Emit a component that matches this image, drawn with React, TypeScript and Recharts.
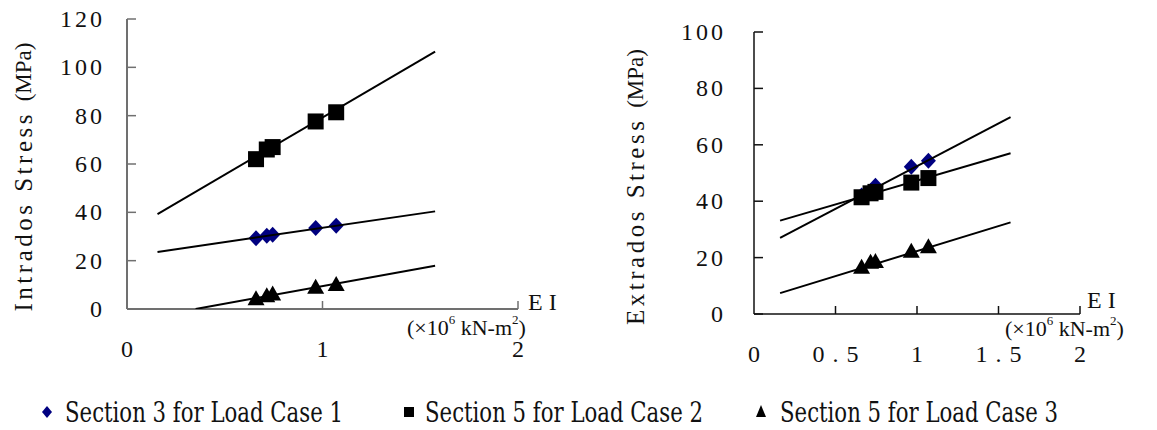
import React from 'react';
import { ScatterChart, Scatter, XAxis, YAxis } from 'recharts';

// ---------- data ----------
const EI = [0.66, 0.715, 0.745, 0.965, 1.07];

const intradosS3LC1 = [29.3, 30.3, 30.7, 33.5, 34.4];
const intradosS5LC2 = [62, 66, 67, 77.6, 81.4];
const intradosS5LC3 = [3.9, 5.2, 5.9, 8.7, 9.8];

const intradosFitS3LC1 = { x: [0.156, 1.576], y: [23.6, 40.4] };
const intradosFitS5LC2 = { x: [0.156, 1.576], y: [39.3, 106.5] };
const intradosFitS5LC3 = { x: [0.351, 1.576], y: [0, 17.9] };

const extradosS3LC1 = [42, 43.5, 45.5, 52.2, 54.3];
const extradosS5LC2 = [41.4, 42.8, 43.3, 46.6, 48.2];
const extradosS5LC3 = [16.3, 18.1, 18.3, 22.0, 23.6];

const extradosFitS3LC1 = { x: [0.16, 1.574], y: [27.0, 69.8] };
const extradosFitS5LC2 = { x: [0.16, 1.574], y: [33.1, 57.0] };
const extradosFitS5LC3 = { x: [0.16, 1.574], y: [7.4, 32.5] };

const intradosXTicks = [0, 1, 2];
const intradosYTicks = [0, 20, 40, 60, 80, 100, 120];
const extradosXTicks = [0, 0.5, 1, 1.5, 2];
const extradosYTicks = [0, 20, 40, 60, 80, 100];

const legendLabels = [
  'Section 3 for Load Case 1',
  'Section 5 for Load Case 2',
  'Section 5 for Load Case 3',
];

const toPoints = (xs: number[], ys: number[]) => xs.map((x, i) => ({ x, y: ys[i] }));

// ---------- styles ----------
const NAVY = '#000080';
const TICK_FONT = 'Liberation Serif';
const LEGEND_FONT = 'DejaVu Serif';
const TITLE_FONT = 'Liberation Serif';

// ---------- shapes ----------
const Diamond = (p: any) => {
  const { cx, cy } = p;
  const w = 7.5, h = 8;
  return <path d={`M${cx},${cy - h}L${cx + w},${cy}L${cx},${cy + h}L${cx - w},${cy}Z`} fill={NAVY} />;
};
const Square = (p: any) => {
  const { cx, cy } = p;
  const s = 8;
  return <rect x={cx - s} y={cy - s} width={2 * s} height={2 * s} fill="#000" />;
};
const Triangle = (p: any) => {
  const { cx, cy } = p;
  const w = 8.5, h = 15;
  return <path d={`M${cx},${cy - h * 0.62}L${cx + w},${cy + h * 0.38}L${cx - w},${cy + h * 0.38}Z`} fill="#000" />;
};
const NoShape = () => <g />;

// ---------- ticks ----------
const XTick = (props: any) => {
  const { x, y, payload, labelDy, tickLen, axisColor } = props;
  const v = payload.value;
  const label = String(v);
  const hasDot = label.includes('.');
  return (
    <g>
      {v !== 0 && <line x1={x} y1={y} x2={x} y2={y - tickLen} stroke={axisColor} strokeWidth={1.5} />}
      <text
        x={x + (hasDot ? 4 : 1.5)}
        y={y + labelDy}
        textAnchor="middle"
        dominantBaseline="central"
        fontFamily={TICK_FONT}
        fontSize={24}
        letterSpacing={hasDot ? 8 : 3}
        fill="#111"
      >
        {label}
      </text>
    </g>
  );
};

const YTick = (props: any) => {
  const { x, y, payload, labelDx, tickLen, axisColor } = props;
  return (
    <g>
      <line x1={x} y1={y} x2={x + tickLen} y2={y} stroke={axisColor} strokeWidth={1.5} />
      <text
        x={x - labelDx}
        y={y}
        textAnchor="end"
        dominantBaseline="central"
        fontFamily={TICK_FONT}
        fontSize={24}
        letterSpacing={3}
        fill="#111"
      >
        {String(payload.value)}
      </text>
    </g>
  );
};

// ---------- titles ----------
const YTitle = (props: any) => {
  const { cx, cy, main } = props;
  return (
    <text
      x={cx}
      y={cy}
      transform={`rotate(-90 ${cx} ${cy})`}
      textAnchor="middle"
      dominantBaseline="central"
      fontFamily={TITLE_FONT}
      fill="#111"
    >
      <tspan fontSize={25} letterSpacing={3.5}>{main}</tspan>
      <tspan fontSize={23} letterSpacing={0}>(MPa)</tspan>
    </text>
  );
};

const XTitle = (props: any) => {
  const { eiX, eiY, unitX, unitY } = props;
  return (
    <g fill="#111">
      <text x={eiX} y={eiY} dominantBaseline="central" fontFamily={TITLE_FONT} fontSize={24} fill="#111">E I</text>
      <text x={unitX} y={unitY} dominantBaseline="central" fontFamily={TITLE_FONT} fontSize={22} fill="#111">
        <tspan>(×10</tspan>
        <tspan fontSize={13} dy={-8}>6</tspan>
        <tspan dy={8}> kN-m</tspan>
        <tspan fontSize={13} dy={-8}>2</tspan>
        <tspan dy={8}>)</tspan>
      </text>
    </g>
  );
};

// ---------- chart ----------
type PanelProps = {
  width: number;
  height: number;
  margin: { top: number; right: number; bottom: number; left: number };
  yDomain: [number, number];
  xTicks: number[];
  yTicks: number[];
  s3: number[];
  s5a: number[];
  s5b: number[];
  fits: { x: number[]; y: number[] }[];
  axisColor: string;
  axisWidth: number;
  yTitle: { cx: number; cy: number; main: string };
  xTitle: { eiX: number; eiY: number; unitX: number; unitY: number };
  xLabelDy: number;
  yLabelDx: number;
};

const Panel = (p: PanelProps) => (
  <ScatterChart width={p.width} height={p.height} margin={p.margin}>
    <XAxis
      type="number"
      dataKey="x"
      domain={[0, 2]}
      ticks={p.xTicks}
      interval={0}
      allowDataOverflow
      height={50}
      tickSize={0}
      tickMargin={0}
      axisLine={{ stroke: p.axisColor, strokeWidth: p.axisWidth }}
      tickLine={false}
      tick={<XTick labelDy={p.xLabelDy} tickLen={8} axisColor={p.axisColor} />}
      label={<XTitle {...p.xTitle} />}
    />
    <YAxis
      type="number"
      dataKey="y"
      domain={p.yDomain}
      ticks={p.yTicks}
      interval={0}
      allowDataOverflow
      width={100}
      tickSize={0}
      tickMargin={0}
      axisLine={{ stroke: p.axisColor, strokeWidth: p.axisWidth }}
      tickLine={false}
      tick={<YTick labelDx={p.yLabelDx} tickLen={9} axisColor={p.axisColor} />}
      label={<YTitle {...p.yTitle} />}
    />
    <Scatter data={toPoints(EI, p.s3)} shape={Diamond} isAnimationActive={false} />
    <Scatter data={toPoints(EI, p.s5a)} shape={Square} isAnimationActive={false} />
    <Scatter data={toPoints(EI, p.s5b)} shape={Triangle} isAnimationActive={false} />
    {p.fits.map((f, i) => (
      <Scatter
        key={i}
        data={toPoints(f.x, f.y)}
        shape={NoShape}
        line={{ stroke: '#000', strokeWidth: 2 }}
        lineType="joint"
        isAnimationActive={false}
      />
    ))}
  </ScatterChart>
);

// ---------- legend ----------
const Legend = () => {
  const items = [
    { mx: 47, tx: 65, kind: 'diamond' },
    { mx: 409, tx: 425, kind: 'square' },
    { mx: 761, tx: 780, kind: 'triangle' },
  ];
  const cy = 412;
  return (
    <svg width={1157} height={60} style={{ position: 'absolute', left: 0, top: 370 }}>
      {items.map((it, i) => {
        const y = cy - 370;
        let marker;
        if (it.kind === 'diamond') marker = <path d={`M${it.mx},${y - 6}L${it.mx + 5},${y}L${it.mx},${y + 6}L${it.mx - 5},${y}Z`} fill={NAVY} />;
        else if (it.kind === 'square') marker = <rect x={it.mx - 5} y={y - 5} width={10} height={10} fill="#000" />;
        else marker = <path d={`M${it.mx},${y - 7}L${it.mx + 5},${y + 5}L${it.mx - 5},${y + 5}Z`} fill="#000" />;
        return (
          <g key={i}>
            {marker}
            <text
              x={it.tx}
              y={y + 10}
              fontFamily={LEGEND_FONT}
              fontSize={27}
              textLength={278}
              lengthAdjust="spacingAndGlyphs"
              fill="#111"
            >
              {legendLabels[i]}
            </text>
          </g>
        );
      })}
    </svg>
  );
};

export default function App() {
  return (
    <div style={{ position: 'absolute', left: 0, top: 0, width: 1157, height: 430, background: '#fff', overflow: 'hidden' }}>
      <div style={{ position: 'absolute', left: 0, top: 0 }}>
        <Panel
          width={580}
          height={370}
          margin={{ top: 19, right: 62, bottom: 11, left: 27 }}
          yDomain={[0, 120]}
          xTicks={intradosXTicks}
          yTicks={intradosYTicks}
          s3={intradosS3LC1}
          s5a={intradosS5LC2}
          s5b={intradosS5LC3}
          fits={[intradosFitS3LC1, intradosFitS5LC2, intradosFitS5LC3]}
          axisColor="#707070"
          axisWidth={2}
          yTitle={{ cx: 23, cy: 177, main: 'Intrados Stress ' }}
          xTitle={{ eiX: 528, eiY: 302, unitX: 407, unitY: 327 }}
          xLabelDy={40}
          yLabelDx={22}
        />
      </div>
      <div style={{ position: 'absolute', left: 580, top: 0 }}>
        <Panel
          width={577}
          height={370}
          margin={{ top: 32, right: 77, bottom: 6, left: 74 }}
          yDomain={[0, 100]}
          xTicks={extradosXTicks}
          yTicks={extradosYTicks}
          s3={extradosS3LC1}
          s5a={extradosS5LC2}
          s5b={extradosS5LC3}
          fits={[extradosFitS3LC1, extradosFitS5LC2, extradosFitS5LC3]}
          axisColor="#111"
          axisWidth={1.5}
          yTitle={{ cx: 55, cy: 187, main: 'Extrados Stress ' }}
          xTitle={{ eiX: 507, eiY: 300, unitX: 425, unitY: 328 }}
          xLabelDy={40}
          yLabelDx={28}
        />
      </div>
      <Legend />
    </div>
  );
}
